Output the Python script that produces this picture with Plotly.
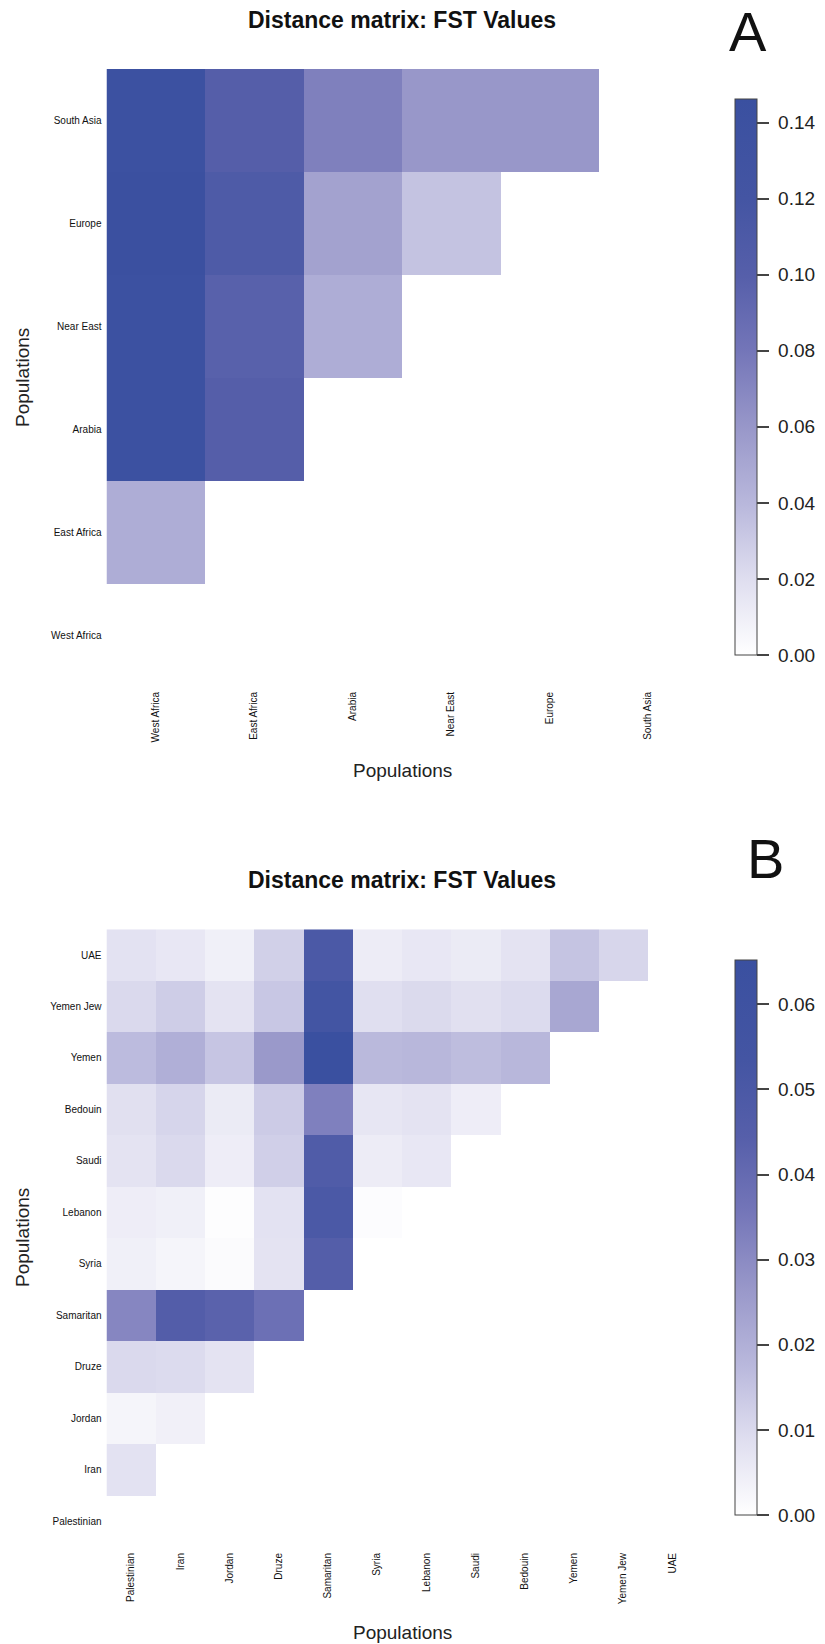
import plotly.graph_objects as go

# ---------------- data ----------------
pops_A = ["West Africa", "East Africa", "Arabia", "Near East", "Europe", "South Asia"]
# lower-triangle FST rows (values vs. the populations listed before it)
fst_A_west_africa = []
fst_A_east_africa = [0.046]
fst_A_arabia = [0.141, 0.101]
fst_A_near_east = [0.141, 0.098, 0.046]
fst_A_europe = [0.144, 0.108, 0.053, 0.034]
fst_A_south_asia = [0.141, 0.101, 0.074, 0.060, 0.060]
ticks_A = [0.00, 0.02, 0.04, 0.06, 0.08, 0.10, 0.12, 0.14]
zmax_A = 0.1462

pops_B = ["Palestinian", "Iran", "Jordan", "Druze", "Samaritan", "Syria",
          "Lebanon", "Saudi", "Bedouin", "Yemen", "Yemen Jew", "UAE"]
fst_B_palestinian = []
fst_B_iran = [0.0077]
fst_B_jordan = [0.0028, 0.0039]
fst_B_druze = [0.0100, 0.0096, 0.0075]
fst_B_samaritan = [0.0312, 0.0459, 0.0432, 0.0379]
fst_B_syria = [0.0041, 0.0028, 0.0011, 0.0075, 0.0454]
fst_B_lebanon = [0.0047, 0.0041, 0.0006, 0.0077, 0.0499, 0.0008]
fst_B_saudi = [0.0075, 0.0100, 0.0047, 0.0123, 0.0474, 0.0050, 0.0064]
fst_B_bedouin = [0.0083, 0.0110, 0.0055, 0.0133, 0.0329, 0.0066, 0.0075, 0.0047]
fst_B_yemen = [0.0169, 0.0201, 0.0146, 0.0262, 0.0650, 0.0174, 0.0180, 0.0165, 0.0179]
fst_B_yemen_jew = [0.0100, 0.0128, 0.0075, 0.0142, 0.0546, 0.0086, 0.0098, 0.0083, 0.0096, 0.0223]
fst_B_uae = [0.0077, 0.0064, 0.0041, 0.0121, 0.0499, 0.0050, 0.0064, 0.0055, 0.0075, 0.0149, 0.0107]
ticks_B = [0.00, 0.01, 0.02, 0.03, 0.04, 0.05, 0.06]
zmax_B = 0.0652

rows_A = [fst_A_west_africa, fst_A_east_africa, fst_A_arabia, fst_A_near_east,
          fst_A_europe, fst_A_south_asia]
rows_B = [fst_B_palestinian, fst_B_iran, fst_B_jordan, fst_B_druze, fst_B_samaritan,
          fst_B_syria, fst_B_lebanon, fst_B_saudi, fst_B_bedouin, fst_B_yemen,
          fst_B_yemen_jew, fst_B_uae]

palette = [
    [0.00, "rgb(255,255,255)"],
    [0.14, "rgb(222,221,239)"],
    [0.27, "rgb(185,184,220)"],
    [0.41, "rgb(152,151,201)"],
    [0.55, "rgb(115,117,184)"],
    [0.68, "rgb(86,95,170)"],
    [0.82, "rgb(68,85,163)"],
    [1.00, "rgb(58,80,160)"],
]


def square(rows):
    n = len(rows)
    return [list(r) + [None] * (n - len(r)) for r in rows]


# ---------------- geometry helpers ----------------
W, H = 825, 1644


def fx(x):
    return x / W


def fy(y):
    return 1 - y / H


FONT = "Liberation Sans, Arial, Helvetica, sans-serif"

fig = go.Figure()
fig.add_trace(go.Heatmap(x=pops_A, y=pops_A, z=square(rows_A), coloraxis="coloraxis",
                         xaxis="x", yaxis="y", hoverongaps=False))
fig.add_trace(go.Heatmap(x=pops_B, y=pops_B, z=square(rows_B), coloraxis="coloraxis2",
                         xaxis="x2", yaxis="y2", hoverongaps=False))

x_dom = [fx(106.5), fx(697)]
axis_common = dict(showgrid=False, zeroline=False, showline=False, ticks="",
                   tickfont=dict(family=FONT, size=10, color="#111111"),
                   fixedrange=True, type="category")


def cbar(tickvals, top, bottom):
    return dict(
        x=fx(735), xanchor="left", xpad=0,
        y=fy((top + bottom) / 2), yanchor="middle", ypad=0,
        len=bottom - top, lenmode="pixels", thickness=22,
        outlinewidth=1, outlinecolor="#444444",
        ticks="outside", ticklen=12, tickwidth=1.5, tickcolor="#444444",
        tickvals=tickvals, ticktext=["\u00a0" + f"{v:.2f}" for v in tickvals],
        tickfont=dict(family=FONT, size=19, color="#222222"),
    )


fig.update_layout(
    width=W, height=H,
    margin=dict(l=0, r=0, t=0, b=0),
    paper_bgcolor="white", plot_bgcolor="white",
    xaxis=dict(domain=x_dom, anchor="y", tickangle=-90, categoryorder="array",
               categoryarray=pops_A, ticklabelstandoff=2, **axis_common),
    yaxis=dict(domain=[fy(687), fy(69)], anchor="x", categoryorder="array",
               categoryarray=pops_A, ticklabelstandoff=4, **axis_common),
    xaxis2=dict(domain=x_dom, anchor="y2", tickangle=-90, categoryorder="array",
                categoryarray=pops_B, ticklabelstandoff=3, **axis_common),
    yaxis2=dict(domain=[fy(1547), fy(929.3)], anchor="x2", categoryorder="array",
                categoryarray=pops_B, ticklabelstandoff=4, **axis_common),
    coloraxis=dict(cmin=0, cmax=zmax_A, colorscale=palette,
                   colorbar=cbar(ticks_A, 99, 655)),
    coloraxis2=dict(cmin=0, cmax=zmax_B, colorscale=palette,
                    colorbar=cbar(ticks_B, 960, 1515)),
)


def ann(text, x, y, size, bold=False, angle=0, color="#222222", family=FONT):
    fig.add_annotation(
        text=f"<b>{text}</b>" if bold else text,
        x=fx(x), y=fy(y), xref="paper", yref="paper",
        xanchor="center", yanchor="middle", showarrow=False, textangle=angle,
        font=dict(family=family, size=size, color=color),
    )


ann("Distance matrix: FST Values", 402, 20, 23, bold=True, color="#111111")
ann("Distance matrix: FST Values", 402, 880, 23, bold=True, color="#111111")
ann("A", 748, 32, 56, color="#111111")
ann("B", 765, 858, 56, color="#111111")
ann("Populations", 402, 771, 19)
ann("Populations", 402, 1632, 19)
ann("Populations", 22, 378, 19, angle=-90)
ann("Populations", 22, 1238, 19, angle=-90)

fig.write_html(
    "out.html",
    config={"displayModeBar": False},
    post_script="document.body.style.margin='0';document.body.style.padding='0';"
                "document.body.style.overflow='hidden';",
)
